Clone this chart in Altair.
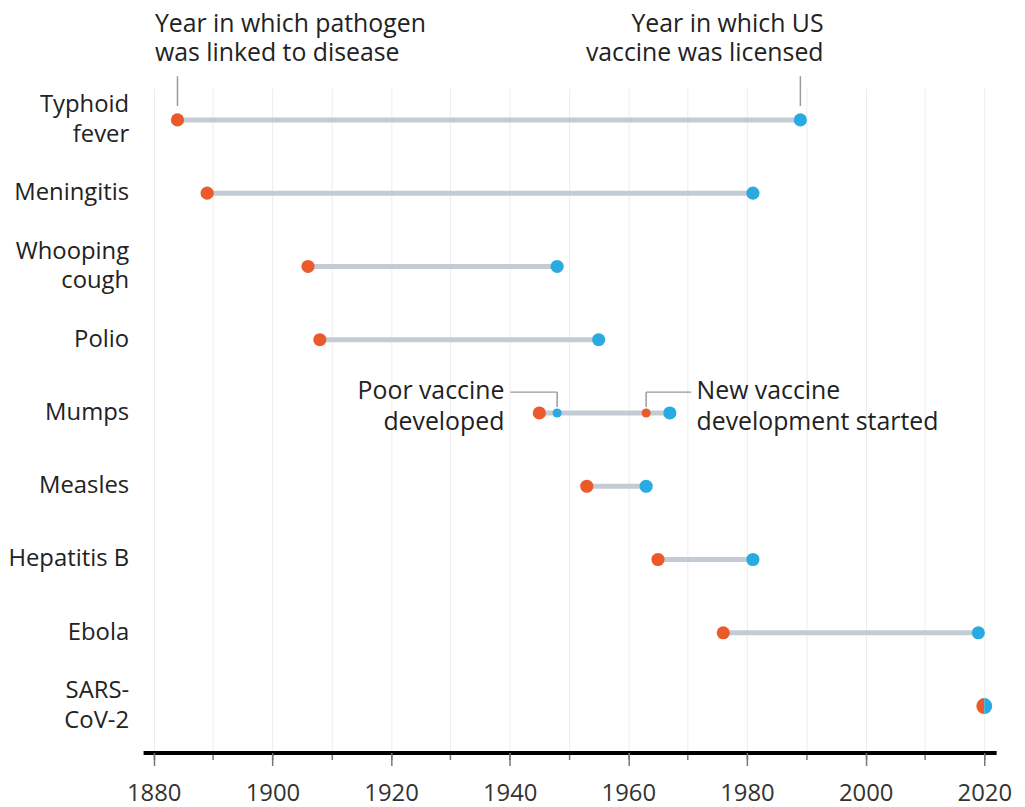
import altair as alt
import pandas as pd

rows = ["Typhoid|fever", "Meningitis", "Whooping|cough", "Polio", "Mumps",
        "Measles", "Hepatitis B", "Ebola", "SARS-|CoV-2"]
linked = [1884, 1889, 1906, 1908, 1945, 1953, 1965, 1976, 2020]
licensed = [1989, 1981, 1948, 1955, 1967, 1963, 1981, 2019, 2020]
mumps_poor_vaccine = 1948
mumps_new_development = 1963
minor_years = list(range(1880, 2021, 10))
major_years = list(range(1880, 2021, 20))

ORANGE = "#eb5a2a"
BLUE = "#29abe2"
LINE = "#c3cbd4"
LEADER = "#9a9a9a"
FONT = "Open Sans"
TEXT = "#222222"
W, H = 859, 669

df = pd.DataFrame({"row": rows, "linked": linked, "licensed": licensed})
main = df[df["row"] != "SARS-|CoV-2"]
sars = df[df["row"] == "SARS-|CoV-2"]
mumps_extra = pd.DataFrame({
    "row": ["Mumps", "Mumps"],
    "year": [mumps_poor_vaccine, mumps_new_development],
    "kind": ["licensed", "linked"],
})

xscale = alt.Scale(domain=[1878.2, 2022], nice=False, zero=False)
yscale = alt.Scale(type="point", padding=0.534, align=0.405)

axis_minor = alt.Axis(
    values=minor_years, labels=False, orient="bottom",
    grid=True, gridColor="#ececec", gridWidth=1,
    domainColor="black", domainWidth=4,
    tickColor="#777777", tickWidth=1.5, tickSize=7, title=None)
axis_major = alt.Axis(
    values=major_years, format="d", orient="bottom", grid=False, domain=False,
    tickColor="#777777", tickWidth=1.5, tickSize=13,
    labelFont=FONT, labelFontSize=24, labelColor="#333333", labelPadding=16,
    title=None)

X = lambda f: alt.X(f, type="quantitative", scale=xscale, axis=axis_minor)
Y = alt.Y("row:N", sort=rows, scale=yscale, axis=None)

segments = alt.Chart(main).mark_rule(color=LINE, strokeWidth=5).encode(
    x=X("linked"), x2="licensed", y=Y)

orange_pts = alt.Chart(main).mark_circle(color=ORANGE, size=175, opacity=1).encode(
    x=X("linked"), y=Y)
blue_pts = alt.Chart(main).mark_circle(color=BLUE, size=175, opacity=1).encode(
    x=X("licensed"), y=Y)
small_pts = alt.Chart(mumps_extra).mark_circle(size=85, opacity=1).encode(
    x=X("year"), y=Y,
    color=alt.Color("kind:N", scale=alt.Scale(domain=["linked", "licensed"], range=[ORANGE, BLUE]), legend=None))

sars_left = alt.Chart(sars).mark_arc(radius=8, theta=3.14159265, theta2=6.2831853, color=ORANGE).encode(
    x=X("linked"), y=Y)
sars_right = alt.Chart(sars).mark_arc(radius=8, theta=0, theta2=3.14159265, color=BLUE).encode(
    x=X("licensed"), y=Y)

# category labels (drawn as text so two-line labels can be centred)
lab = pd.DataFrame({"row": rows, "label": [r.replace("|", "\n") for r in rows],
                    "lines": [r.count("|") + 1 for r in rows]})

def label_layer(d, dy):
    return alt.Chart(d).mark_text(align="right", baseline="middle", lineBreak="\n",
                                  font=FONT, fontSize=24, lineHeight=30, color=TEXT, dy=dy).encode(
        x=alt.value(-14), y=Y, text="label:N")

labels_one = label_layer(lab[lab["lines"] == 1], 0)
labels_two = label_layer(lab[lab["lines"] == 2], -15)

# annotations
ann = pd.DataFrame({
    "row": ["Typhoid|fever", "Mumps", "Typhoid|fever", "Mumps"],
    "x": [1880.2, 1971.5, 1992.9, 1939.1],
    "text": ["Year in which pathogen\nwas linked to disease", "New vaccine\ndevelopment started",
             "Year in which US\nvaccine was licensed", "Poor vaccine\ndeveloped"],
})

def ann_layer(i, align, dy, lh):
    return alt.Chart(ann.iloc[[i]]).mark_text(align=align, baseline="middle", lineBreak="\n",
                                  font=FONT, fontSize=25, lineHeight=lh, color=TEXT, dy=dy).encode(
        x=X("x"), y=Y, text="text:N")

texts = [
    ann_layer(0, "left", -97, 30),
    ann_layer(1, "left", -22, 31),
    ann_layer(2, "right", -97, 30),
    ann_layer(3, "right", -22, 31),
]

# leaders
top_leader_x = [1884, 1989]
top_leaders = alt.Chart(pd.DataFrame({"row": ["Typhoid|fever"] * 2, "x": top_leader_x})).mark_rule(
    color=LEADER, strokeWidth=1.5, yOffset=-14, y2Offset=-44).encode(
    x=X("x"), y=Y, y2=alt.Y2("row"))

mumps_vert_x = [mumps_poor_vaccine, mumps_new_development]
mumps_vert = alt.Chart(pd.DataFrame({"row": ["Mumps"] * 2, "x": mumps_vert_x})).mark_rule(
    color=LEADER, strokeWidth=1.5, yOffset=-6, y2Offset=-21).encode(
    x=X("x"), y=Y, y2=alt.Y2("row"))

mumps_horiz_x = [1940.1, mumps_new_development]
mumps_horiz_x2 = [mumps_poor_vaccine, 1970.6]
mumps_horiz = alt.Chart(pd.DataFrame({"row": ["Mumps"] * 2, "x": mumps_horiz_x, "x2": mumps_horiz_x2})).mark_rule(
    color=LEADER, strokeWidth=1.5, yOffset=-21).encode(
    x=X("x"), x2="x2", y=Y)

inner = alt.layer(
    segments, top_leaders, mumps_vert, mumps_horiz,
    orange_pts, blue_pts, small_pts, sars_left, sars_right,
    labels_one, labels_two, *texts
)

major_layer = alt.Chart(pd.DataFrame({"year": major_years})).mark_point(opacity=0).encode(
    x=alt.X("year:Q", scale=xscale, axis=axis_major))

chart = alt.layer(inner, major_layer).resolve_axis(x="independent").properties(
    width=W, height=H, padding={"left": 0, "top": 0, "right": 5, "bottom": 0}
).configure(background="white").configure_view(stroke=None)

chart.save("out.html", embed_options={"renderer": "svg", "actions": False})
